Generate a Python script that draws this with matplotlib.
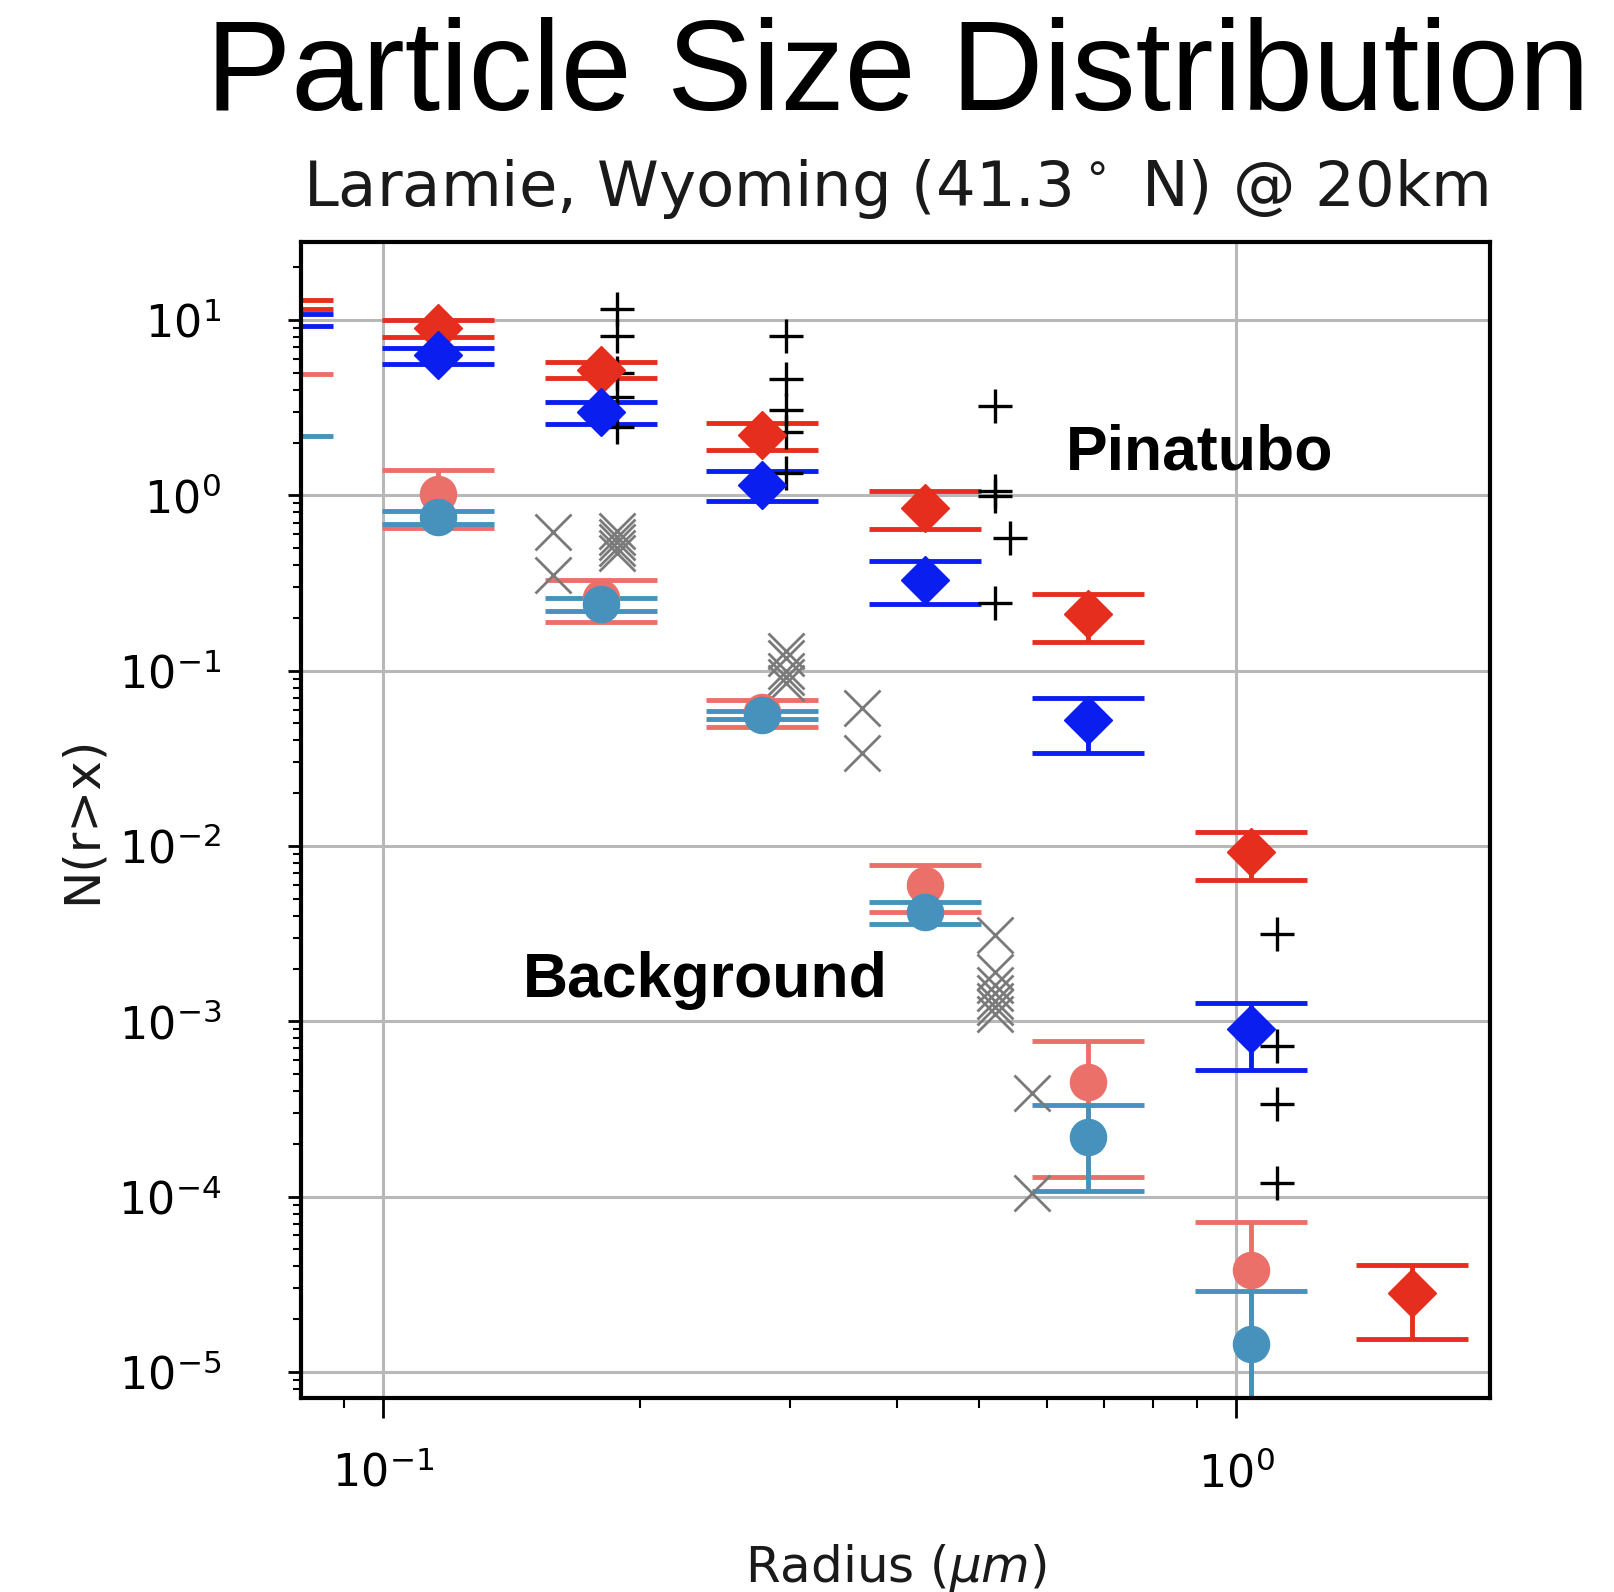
import numpy as np
import matplotlib
matplotlib.use('Agg')
import matplotlib.pyplot as plt
from matplotlib.ticker import NullFormatter

# bin radii (um) shared by the four errorbar series
radius = [0.075, 0.116, 0.18, 0.278, 0.432, 0.67, 1.04, 1.61]

# Pinatubo, two instruments (diamonds)
pin_red = [12.3, 9.0, 5.2, 2.2, 0.85, 0.21, 0.0092, 2.8e-5]
pin_red_err = [0.8, 1.0, 0.55, 0.38, 0.21, 0.065, 0.0028, 1.27e-5]
pin_blue = [10.05, 6.3, 3.0, 1.15, 0.33, 0.052, 0.0009]
pin_blue_err = [0.85, 0.65, 0.43, 0.22, 0.09, 0.018, 0.00037]

# background (circles)
bg_red = [2.2, 1.02, 0.26, 0.058, 0.006, 0.00045, 3.8e-5]
bg_red_err = [2.7, 0.37, 0.07, 0.01, 0.0018, 0.00032, 3.4e-5]
bg_blue = [1.0, 0.75, 0.24, 0.056, 0.0042, 0.00022, 1.45e-5]
bg_blue_err = [1.18, 0.06, 0.02, 0.003, 0.0006, 0.000113, 1.44e-5]

# model points, Pinatubo (+)
plus_r = [0.188, 0.188, 0.188, 0.188, 0.188,
          0.297, 0.297, 0.297, 0.297, 0.297,
          0.522, 0.522, 0.522, 0.522, 0.543,
          1.116, 1.116, 1.116, 1.116]
plus_n = [11.6, 8.1, 5.0, 3.65, 2.45,
          8.1, 4.6, 3.07, 2.31, 1.34,
          3.23, 1.06, 0.99, 0.242, 0.569,
          0.00313, 0.00072, 0.000336, 0.00012]

# model points, background (x)
cross_r = [0.158, 0.158,
           0.188, 0.188, 0.188, 0.188, 0.188,
           0.297, 0.297, 0.297, 0.297, 0.297,
           0.364, 0.364,
           0.522, 0.522, 0.522, 0.522, 0.522, 0.522, 0.522,
           0.577, 0.577]
cross_n = [0.62, 0.35,
           0.63, 0.58, 0.54, 0.50, 0.47,
           0.13, 0.118, 0.10, 0.092, 0.085,
           0.061, 0.034,
           0.0031, 0.0019, 0.0016, 0.00145, 0.0013, 0.0012, 0.0011,
           0.00039, 0.000105]

c_pin_red = '#e62e1f'
c_pin_blue = '#0a1ef0'
c_bg_red = '#eb7069'
c_bg_blue = '#4692bd'

fig = plt.figure(figsize=(16.15, 15.92), dpi=100)
ax = fig.add_axes([0.1864, 0.1219, 0.7362, 0.7261])
ax.set_xscale('log')
ax.set_yscale('log')

eb = dict(capsize=40, capthick=3.5, elinewidth=3.5, linestyle='none')
ax.errorbar(radius[:7], bg_red, yerr=bg_red_err, fmt='o', color=c_bg_red, ms=26, **eb)
ax.errorbar(radius[:7], bg_blue, yerr=bg_blue_err, fmt='o', color=c_bg_blue, ms=26, **eb)
ax.errorbar(radius, pin_red, yerr=pin_red_err, fmt='D', color=c_pin_red, ms=24, **eb)
ax.errorbar(radius[:7], pin_blue, yerr=pin_blue_err, fmt='D', color=c_pin_blue, ms=24, **eb)
ax.plot(cross_r, cross_n, 'x', color='#7a7a7a', ms=26, mew=2.0, linestyle='none')
ax.plot(plus_r, plus_n, '+', color='black', ms=24, mew=2.4, linestyle='none')

ax.set_xlim(0.0801, 1.985)
ax.set_ylim(7.1e-6, 27.9)
ax.grid(True, which='major', color='#b8b8b8', linewidth=2.2)
ax.set_axisbelow(True)
for s in ax.spines.values():
    s.set_linewidth(3)

ax.xaxis.set_minor_formatter(NullFormatter())
ax.tick_params(axis='y', which='major', length=9.5, width=2, labelsize=32, pad=48)
ax.tick_params(axis='y', which='minor', length=6, width=1.5)
ax.tick_params(axis='x', which='major', length=14.5, width=2, labelsize=32, pad=24)
ax.tick_params(axis='x', which='minor', length=7, width=1.5)

ax.set_title('Laramie, Wyoming (41.3$^\\circ$ N) @ 20km', fontsize=45, pad=26, color='#1a1a1a')
ax.set_xlabel('Radius ($\\mu m$)', fontsize=36, color='#1a1a1a')
ax.xaxis.set_label_coords(0.5, -0.1246)
ax.set_ylabel('N(r>x)', fontsize=36, color='#1a1a1a')
ax.yaxis.set_label_coords(-0.164, 0.5)

fig.text(206 / 1615, 1 - 110 / 1592, 'Particle Size Distribution', fontsize=92,
         family='Liberation Sans', ha='left', va='baseline')
fig.text(1066 / 1615, 1 - 469 / 1592, 'Pinatubo', fontsize=45, weight='bold',
         family='Liberation Sans', ha='left', va='baseline')
fig.text(523 / 1615, 1 - 997 / 1592, 'Background', fontsize=45, weight='bold',
         family='Liberation Sans', ha='left', va='baseline')

fig.savefig('out.png', dpi=100)
